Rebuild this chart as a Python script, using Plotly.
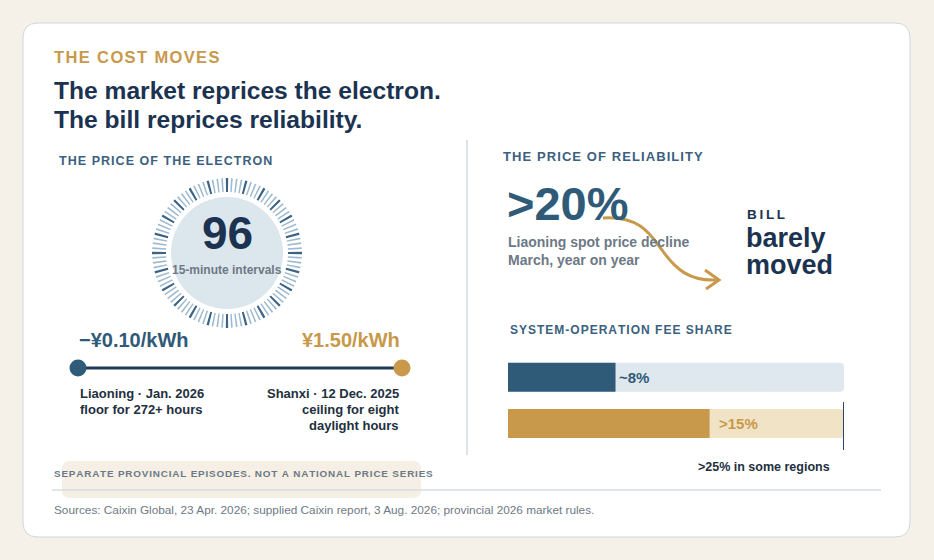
import numpy as np
import plotly.graph_objects as go

W, H = 934, 560

# %% data
intervals_per_day = 96
floor_price = -0.10     # Liaoning, Jan. 2026, CNY/kWh
ceiling_price = 1.50    # Shanxi, 12 Dec. 2025, CNY/kWh
spot_decline = 20       # %, Liaoning spot price, March y/y
fee_rows = [0, 1]
fee_share = [8, 15]
fee_labels = ["~8%", ">15%"]
fee_regional = 25       # % in some regions

# %% style
NAVY = "#1b3350"
BLUE = "#2f5a78"
LABEL = "#3b6080"
GOLD = "#c8994a"
GRAY = "#6d7986"
DARK = "#222f3e"
FONT = "Liberation Sans, Arial, sans-serif"
HAIR = "\u200a"


def spaced(s, sep=HAIR):
    return sep.join(list(s))


def rounded_rect(x0, y0, x1, y1, r):
    return (f"M{x0+r},{y0} L{x1-r},{y0} Q{x1},{y0} {x1},{y0+r} "
            f"L{x1},{y1-r} Q{x1},{y1} {x1-r},{y1} L{x0+r},{y1} "
            f"Q{x0},{y1} {x0},{y1-r} L{x0},{y0+r} Q{x0},{y0} {x0+r},{y0} Z")


fig = go.Figure()

# dial: one tick per 15-minute interval
theta = np.arange(intervals_per_day) * 360 / intervals_per_day
hour_mark = np.arange(intervals_per_day) % 4 == 0
fig.add_trace(go.Barpolar(
    theta=theta, r=[14] * intervals_per_day, base=61,
    width=np.where(hour_mark, 1.8, 1.3),
    marker=dict(color=np.where(hour_mark, "#3a6384", "#9fb9cd"), line_width=0),
    subplot="polar", hoverinfo="skip",
))

# price range line
fig.add_trace(go.Scatter(
    x=[floor_price, ceiling_price], y=[0, 0], mode="lines+markers",
    line=dict(color="#1f3a5a", width=3),
    marker=dict(size=17, color=[BLUE, GOLD]),
    xaxis="x3", yaxis="y3", cliponaxis=False, hoverinfo="skip",
))

# fee share bars (track + fill)
fig.add_trace(go.Bar(
    x=[fee_regional] * len(fee_rows), y=fee_rows, orientation="h", width=0.626,
    marker=dict(color=["#dfe8ee", "#f1e3c6"], line_width=0),
    xaxis="x2", yaxis="y2", hoverinfo="skip",
))
fig.add_trace(go.Bar(
    x=fee_share, y=fee_rows, orientation="h", width=0.626,
    marker=dict(color=[BLUE, GOLD], line_width=0),
    xaxis="x2", yaxis="y2", hoverinfo="skip",
))

mid = (floor_price + ceiling_price) / 2
shapes = [
    dict(type="path", path=rounded_rect(23, 23, 910, 537, 15), fillcolor="white",
         line=dict(color="#cfd8de", width=1), layer="below"),
    dict(type="line", x0=467, x1=467, y0=140, y1=455, line=dict(color="#c5d1da", width=1.2), layer="below"),
    dict(type="path", path=rounded_rect(62, 461, 421, 498, 8), fillcolor="#f5efe5",
         line_width=0, layer="below"),
    dict(type="line", x0=52, x1=881, y0=490, y1=490, line=dict(color="#d6dde2", width=1.5), layer="below"),
    dict(type="circle", x0=171, x1=283, y0=197, y1=309, fillcolor="#dce7ed", line_width=0, layer="below"),
    # midpoint divider of the price line
    dict(type="line", xref="x3", yref="y", x0=mid, x1=mid, y0=357, y1=378,
         line=dict(color="#b9c6cf", width=1.5), layer="below"),
    # regional max marker
    dict(type="line", xref="x2", yref="y", x0=fee_regional, x1=fee_regional, y0=402, y1=450,
         line=dict(color="#2a4462", width=2), layer="above"),
    # bill arrow
    dict(type="path", path="M603,218 C640,216 650,234 662,250 C676,270 690,281 716,280",
         line=dict(color=GOLD, width=3), layer="above"),
    dict(type="path", path="M705,270 L719,280 L706,289",
         line=dict(color=GOLD, width=3), layer="above"),
]


def txt(x, y, s, size, color, weight="bold", anchor="left"):
    return dict(x=x, y=y, text=s, xref="x", yref="y", showarrow=False,
                xanchor=anchor, yanchor="middle",
                font=dict(family=FONT, size=size, color=color, weight=weight))


ann = [
    txt(52, 57, spaced("THE COST MOVES"), 16.5, GOLD),
    txt(52, 90, "The market reprices the electron.", 24.6, NAVY),
    txt(52, 119, "The bill reprices reliability.", 24.6, NAVY),
    txt(57, 161, spaced("THE PRICE OF THE ELECTRON"), 12.5, LABEL),
    txt(227, 233, str(intervals_per_day), 46, NAVY, anchor="center"),
    txt(227, 270, "15-minute intervals", 12, GRAY, anchor="center"),
    txt(77, 340, f"\u2212¥{abs(floor_price):.2f}/kWh", 20, BLUE),
    txt(402, 340, f"¥{ceiling_price:.2f}/kWh", 20, GOLD, anchor="right"),
    txt(78, 393, "Liaoning · Jan. 2026", 13, DARK),
    txt(78, 409, "floor for 272+ hours", 13, DARK),
    txt(401, 393, "Shanxi · 12 Dec. 2025", 13, DARK, anchor="right"),
    txt(401, 409, "ceiling for eight", 13, DARK, anchor="right"),
    txt(401, 425, "daylight hours", 13, DARK, anchor="right"),
    txt(52, 473, spaced("SEPARATE PROVINCIAL EPISODES. NOT A NATIONAL PRICE SERIES"), 9.9, GRAY),
    txt(52, 510, "Sources: Caixin Global, 23 Apr. 2026; supplied Caixin report, 3 Aug. 2026; "
                 "provincial 2026 market rules.", 11.8, GRAY, weight="normal"),
    txt(501, 156, spaced("THE PRICE OF RELIABILITY"), 13, LABEL),
    txt(505, 203, f">{spot_decline}%", 47, BLUE),
    txt(506, 242, "Liaoning spot price decline", 14, GRAY),
    txt(506, 260, "March, year on year", 14, GRAY),
    txt(745, 214, spaced("BILL", "\u2009"), 13.5, NAVY),
    txt(744, 238, "barely", 27, NAVY),
    txt(744, 265, "moved", 27, NAVY),
    txt(508, 330, spaced("SYSTEM-OPERATION FEE SHARE"), 12, LABEL),
    txt(832, 467, f">{fee_regional}% in some regions", 12.5, DARK, anchor="right"),
]
for row, val, lab, col, shift in zip(fee_rows, fee_share, fee_labels, [BLUE, GOLD], [1, 7]):
    a = txt(val, row, lab, 15, col)
    a.update(xref="x2", yref="y2", xshift=shift)
    ann.append(a)

hidden = dict(visible=False, fixedrange=True)
fig.update_layout(
    width=W, height=H, margin=dict(l=0, r=0, t=0, b=0),
    paper_bgcolor="#f5f0e8", plot_bgcolor="rgba(0,0,0,0)",
    showlegend=False, barmode="overlay", barcornerradius=4,
    xaxis=dict(range=[0, W], domain=[0, 1], **hidden),
    yaxis=dict(range=[H, 0], domain=[0, 1], **hidden),
    xaxis2=dict(range=[0, fee_regional], domain=[508 / W, 844 / W], anchor="y2", **hidden),
    yaxis2=dict(range=[1.5, -0.5], domain=[(H - 446.7) / H, (H - 354) / H], anchor="x2", **hidden),
    xaxis3=dict(range=[floor_price, ceiling_price], domain=[78 / W, 402 / W], anchor="y3", **hidden),
    yaxis3=dict(range=[-1, 1], domain=[(H - 378) / H, (H - 358) / H], anchor="x3", **hidden),
    polar=dict(
        domain=dict(x=[152 / W, 302 / W], y=[(H - 328) / H, (H - 178) / H]),
        bgcolor="rgba(0,0,0,0)",
        radialaxis=dict(range=[0, 75], visible=False),
        angularaxis=dict(visible=False, rotation=90, direction="clockwise"),
    ),
    shapes=shapes, annotations=ann,
)

# page body has a default 8px margin; drop it so the figure sits at 0,0
fig.write_html("out.html", config={"displayModeBar": False, "staticPlot": True},
               post_script="document.body.style.margin='0';")
